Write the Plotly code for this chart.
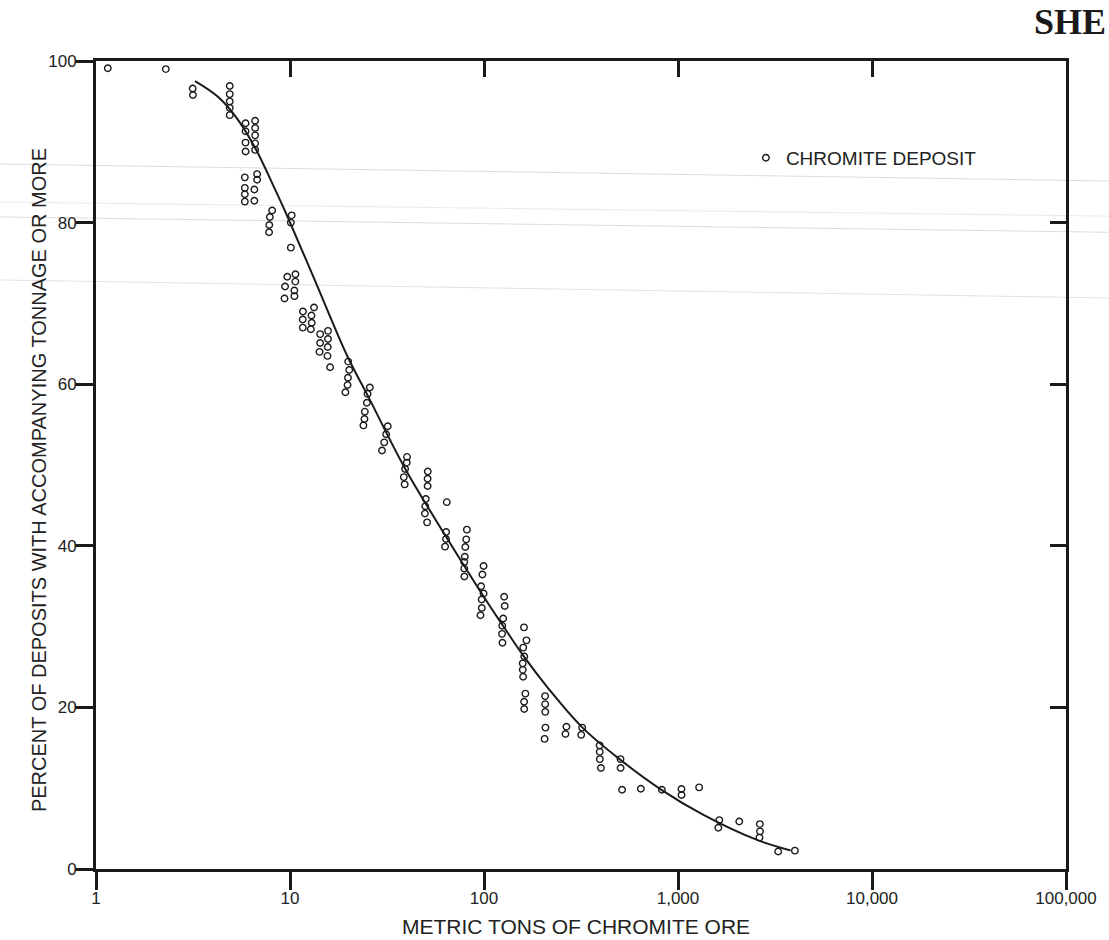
import plotly.graph_objects as go

# ---- data (metric tons of ore, percent of deposits) ----
deposit_tons = [
    1.15, 2.29, 3.15, 3.16,
    4.89, 4.89, 4.89, 4.89, 4.89,
    5.90, 5.90, 5.90, 5.90,
    6.61, 6.61, 6.61, 6.61, 6.61,
    6.77, 6.77,
    5.85, 5.85, 5.85, 5.85,
    6.55, 6.55,
    8.09, 7.87, 7.82, 7.80,
    10.2, 10.1, 10.1,
    10.67, 9.68, 10.65, 9.43, 10.53, 10.54, 9.37,
    13.3, 11.66, 12.9, 11.63, 12.94, 11.64, 12.8,
    15.7, 14.3, 15.7, 14.3, 15.65, 14.2, 15.6, 16.1,
    19.95, 20.2, 19.9, 19.8, 19.3,
    25.8, 25.1, 24.9, 24.3, 24.2, 23.9,
    31.9, 31.3, 30.6, 29.8,
    40.1, 40.0, 39.2, 38.6, 39.0,
    51.3, 51.2, 51.2,
    50.1, 49.8, 49.6, 50.9,
    64.3,
    63.8, 63.7, 63.0,
    81.6, 81.0, 80.1, 79.6, 79.1, 79.1, 79.2,
    99.5, 98.1,
    96.6, 99.5, 97.3, 97.4, 95.9,
    127, 127.9,
    125.6, 124.2, 123.9, 124.5,
    160.7, 165.5, 159.3, 161.3, 158.3, 158.4, 159.1,
    163.4, 161.0, 161.2,
    206.4, 206.7, 206.9, 207.4, 205.3,
    266, 263,
    320.6, 317,
    394.6, 395, 395.4, 400.6,
    505.3, 506,
    515, 643.5, 826,
    1042, 1043, 1285,
    1632, 1614, 2069,
    2642, 2646, 2629,
    3284, 4004,
]
deposit_pct = [
    99.1, 99.0, 96.6, 95.8,
    96.9, 95.9, 95.0, 94.2, 93.3,
    92.3, 91.3, 89.9, 88.8,
    92.6, 91.7, 90.8, 89.8, 89.0,
    86.0, 85.3,
    85.6, 84.3, 83.5, 82.6,
    84.1, 82.7,
    81.5, 80.7, 79.7, 78.8,
    80.9, 80.0, 76.9,
    73.6, 73.3, 72.7, 72.1, 71.6, 70.9, 70.6,
    69.5, 69.0, 68.5, 68.0, 67.6, 67.0, 66.8,
    66.6, 66.2, 65.6, 65.1, 64.6, 64.0, 63.5, 62.1,
    62.8, 61.75, 60.8, 59.9, 59.0,
    59.6, 58.8, 57.7, 56.6, 55.7, 54.9,
    54.8, 53.8, 52.8, 51.8,
    51.0, 50.3, 49.5, 48.5, 47.6,
    49.2, 48.3, 47.4,
    45.8, 44.9, 44.0, 42.9,
    45.4,
    41.7, 40.85, 39.9,
    42.0, 40.8, 39.85, 38.65, 38.0, 37.2, 36.2,
    37.5, 36.45,
    35.0, 34.1, 33.35, 32.3, 31.4,
    33.7, 32.55,
    31.0, 30.1, 29.1, 28.0,
    29.9, 28.3, 27.4, 26.3, 25.45, 24.65, 23.8,
    21.7, 20.7, 19.8,
    21.4, 20.4, 19.45, 17.5, 16.1,
    17.6, 16.7,
    17.5, 16.6,
    15.3, 14.5, 13.6, 12.5,
    13.6, 12.5,
    9.8, 9.94, 9.8,
    9.9, 9.16, 10.1,
    6.05, 5.1, 5.87,
    5.56, 4.66, 3.88,
    2.17, 2.27,
]

curve_tons = [3.24, 4.28, 5.44, 6.66, 8.49, 9.6, 13.3, 19.9, 24.9, 38.9, 63.1,
              100.3, 125.3, 159.4, 215.4, 321.8, 499.4, 821.6, 1353, 2556, 3802]
curve_pct = [97.5, 95.5, 92.6, 89.1, 83.8, 81.0, 73.1, 63.3, 58.8, 49.7, 41.3,
             33.6, 30.1, 26.4, 22.3, 17.5, 13.6, 9.8, 6.7, 3.6, 2.3]

x_tickvals = [1, 10, 100, 1000, 10000, 100000]
x_ticktext = ["1", "10", "100", "1,000", "10,000", "100,000"]
y_tickvals = [0, 20, 40, 60, 80, 100]
y_ticktext = ["0", "20", "40", "60", "80", "100"]

INK = "#1a1a1a"
SANS = "Liberation Sans, Arial, sans-serif"

fig = go.Figure()

fig.add_trace(go.Scatter(
    x=curve_tons, y=curve_pct, mode="lines",
    line=dict(color=INK, width=2, shape="spline", smoothing=1.0),
    showlegend=False, hoverinfo="skip",
))
fig.add_trace(go.Scatter(
    x=deposit_tons, y=deposit_pct, mode="markers",
    name="CHROMITE DEPOSIT",
    marker=dict(symbol="circle-open", size=6.5, color=INK, line=dict(width=1.4, color=INK)),
))
# empty trace so the mirrored (top/right) axes get drawn
fig.add_trace(go.Scatter(x=[], y=[], xaxis="x2", yaxis="y2", showlegend=False))

axis_common = dict(showline=True, linewidth=3, linecolor=INK, showgrid=False,
                   zeroline=False, tickcolor=INK, tickwidth=3)

fig.update_layout(
    width=1109, height=940,
    margin=dict(l=96, r=43, t=61, b=71),
    paper_bgcolor="white", plot_bgcolor="white",
    font=dict(family=SANS, color="#222222", size=17),
    xaxis=dict(type="log", range=[0, 5], tickvals=x_tickvals, ticktext=x_ticktext,
               ticks="outside", ticklen=18, ticklabelstandoff=-6,
               tickfont=dict(size=17), **axis_common),
    yaxis=dict(range=[0, 100], tickvals=y_tickvals, ticktext=y_ticktext,
               ticks="outside", ticklen=18, ticklabelstandoff=-5,
               tickfont=dict(size=17), **axis_common),
    xaxis2=dict(type="log", range=[0, 5], overlaying="x", side="top", anchor="y",
                tickvals=x_tickvals[1:-1], ticks="inside", ticklen=16,
                showticklabels=False, **axis_common),
    yaxis2=dict(range=[0, 100], overlaying="y", side="right", anchor="x",
                tickvals=y_tickvals[1:-1], ticks="inside", ticklen=16,
                showticklabels=False, **axis_common),
    legend=dict(x=0.670, y=0.880, xanchor="left", yanchor="middle",
                bgcolor="rgba(0,0,0,0)", font=dict(size=19, color="#222222"),
                itemwidth=30),
    showlegend=True,
)

# axis titles
fig.add_annotation(
    text="PERCENT OF DEPOSITS WITH ACCOMPANYING TONNAGE OR MORE",
    xref="paper", yref="paper", x=-0.058, y=0.481, xanchor="center", yanchor="middle",
    textangle=-90, showarrow=False, font=dict(size=20, color="#222222", family=SANS),
)
fig.add_annotation(
    text="METRIC TONS OF CHROMITE ORE",
    xref="paper", yref="paper", x=0.495, y=-0.0875, xanchor="center", yanchor="bottom",
    showarrow=False, font=dict(size=21, color="#222222", family=SANS),
)
# clipped page header from the scan
fig.add_annotation(
    text="<b>SHE</b>",
    xref="paper", yref="paper", x=0.965, y=1.076, xanchor="left", yanchor="top",
    showarrow=False, font=dict(size=36, color="#1a1a1a", family="Liberation Serif, Times New Roman, serif"),
)

# faint scanner streaks across the page
for (y0, y1, op) in [(0.8725, 0.8515, 0.3), (0.8255, 0.808, 0.18), (0.807, 0.788, 0.3), (0.729, 0.7067, 0.25)]:
    fig.add_shape(type="line", xref="paper", yref="paper", x0=-0.099, x1=1.0443, y0=y0, y1=y1,
                  line=dict(color="rgba(140,140,140,%s)" % op, width=1), layer="below")

fig.write_html("out.html", config={"displayModeBar": False},
               post_script="document.body.style.margin='0';document.body.style.overflow='hidden';")
